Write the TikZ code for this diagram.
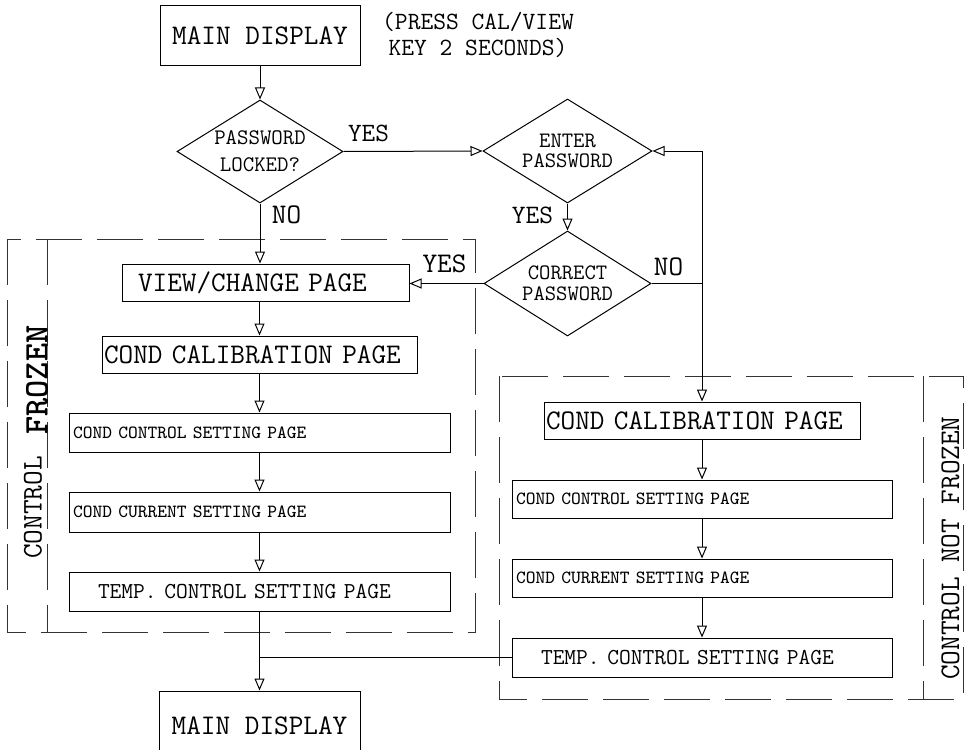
\documentclass[tikz,border=0pt]{standalone}
\usetikzlibrary{shapes.geometric,arrows.meta}
\newcommand\monofs[2]{\ttfamily\fontsize{#1}{#2}\selectfont}

\begin{document}
\begin{tikzpicture}[x=0.5pt,y=-0.5pt,line width=0.5pt,
  arr/.style={-{Triangle[open,length=6pt,width=5pt]}},
  frame/.style={dash pattern=on 23pt off 7.5pt,draw=black!80},
  box/.style={draw,inner sep=0pt},
  page/.style={draw,inner ysep=0pt,align=left},
  ask/.style={draw,shape=diamond,aspect=1.6,inner sep=0pt,align=center},
  fbig/.style={font=\monofs{14.2}{16}},
  fmid/.style={font=\monofs{11.4}{13}},
  fsmall/.style={font=\monofs{9.3}{11}}]
\useasboundingbox (0,0) rectangle (967,749);
\clip (0,0) rectangle (967,749);

% dashed groups
\draw[frame] (7,239) rectangle (475,632);
\draw[frame] (47,239) -- (47,632);
\draw[frame] (499,376) rectangle (963,699);
\draw[frame] (923,376) -- (923,699);
\node[fbig,rotate=90] (ctlL) at (33,507.5) {CONTROL};
\node[rotate=90,font=\monofs{17.3}{18}\bfseries] (frzL) at (37,380) {FROZEN};
\node[fbig,rotate=90] (ctlR) at (950.5,548) {CONTROL NOT FROZEN};

% top
\node[box,fbig,minimum width=100pt,minimum height=30pt] (main1) at (260,36) {MAIN DISPLAY};
\node[align=center,inner sep=0pt,font=\monofs{12.4}{13}] (note) at (478,35) {(PRESS CAL/VIEW\\KEY 2 SECONDS)};
\node[ask,minimum width=83pt,minimum height=51.5pt,font=\monofs{11.1}{13.5}] (lock) at (260,151.5) {PASSWORD\\LOCKED?};
\node[ask,minimum width=84.5pt,minimum height=52pt,font=\monofs{11}{10}] (enter) at (567.5,151) {ENTER\\PASSWORD};
\node[ask,minimum width=83.5pt,minimum height=52.5pt,font=\monofs{11}{10.5}] (correct) at (567.5,283.5) {CORRECT\\PASSWORD};

% frozen column
\node[page,fbig,minimum height=18.5pt,text width=127.5pt,inner xsep=8pt] (view) at (265.5,282.5) {VIEW/CHANGE PAGE};
\node[page,fbig,minimum height=18.5pt,text width=155.5pt,inner xsep=1pt] (calL) at (259.5,354.5) {COND CALIBRATION PAGE};
\node[page,fsmall,minimum height=19.5pt,text width=186.5pt,inner xsep=2pt] (ctrlL) at (259.5,432.5) {COND CONTROL SETTING PAGE};
\node[page,fsmall,minimum height=20pt,text width=186.5pt,inner xsep=2pt] (curL) at (259.5,512) {COND CURRENT SETTING PAGE};
\node[page,fmid,minimum height=19.5pt,text width=161.5pt,inner xsep=14.5pt] (tempL) at (259.5,591.5) {TEMP. CONTROL SETTING PAGE};

% not frozen column
\node[page,fbig,minimum height=18.5pt,text width=156pt,inner xsep=1pt] (calR) at (702,420.5) {COND CALIBRATION PAGE};
\node[page,fsmall,minimum height=19pt,text width=186pt,inner xsep=2pt] (ctrlR) at (702,499) {COND CONTROL SETTING PAGE};
\node[page,fsmall,minimum height=19pt,text width=186pt,inner xsep=2pt] (curR) at (702,578) {COND CURRENT SETTING PAGE};
\node[page,fmid,minimum height=19.5pt,text width=161pt,inner xsep=14.5pt] (tempR) at (702,657.5) {TEMP. CONTROL SETTING PAGE};

\node[box,fbig,minimum width=100.5pt,minimum height=35pt] (main2) at (259.5,726) {MAIN DISPLAY};

% labels
\node[inner sep=0pt,font=\monofs{13.2}{14}] (yes1) at (368.5,133.5) {YES};
\node[inner sep=0pt,fbig] (no1) at (286.5,215) {NO};
\node[inner sep=0pt,font=\monofs{13.3}{14}] (yes2) at (532.5,215) {YES};
\node[inner sep=0pt,fbig] (yes3) at (444.5,263.5) {YES};
\node[inner sep=0pt,fbig] (no2) at (668.5,266.5) {NO};

\coordinate (jn) at (702,283.5);

% connectors
\draw[arr] (main1) -- (lock);
\draw[arr] (lock.east) -- (enter.west);
\draw[arr] (lock.south) -- (lock.south |- view.north);
\draw[arr] (enter) -- (correct);
\draw[arr] (correct.west) -- (correct.west -| view.east);
\draw[arr] (correct.east) -- (jn) |- (enter.east);
\draw[arr] (jn) -- (calR);
\draw[arr] (view.south -| calL.north) -- (calL);
\draw[arr] (calL) -- (ctrlL);
\draw[arr] (ctrlL) -- (curL);
\draw[arr] (curL) -- (tempL);
\draw[arr] (tempL) -- (main2);
\draw[arr] (calR) -- (ctrlR);
\draw[arr] (ctrlR) -- (curR);
\draw[arr] (curR) -- (tempR);
\draw (tempR.west) -- (tempR.west -| tempL.south);
\end{tikzpicture}
\end{document}
